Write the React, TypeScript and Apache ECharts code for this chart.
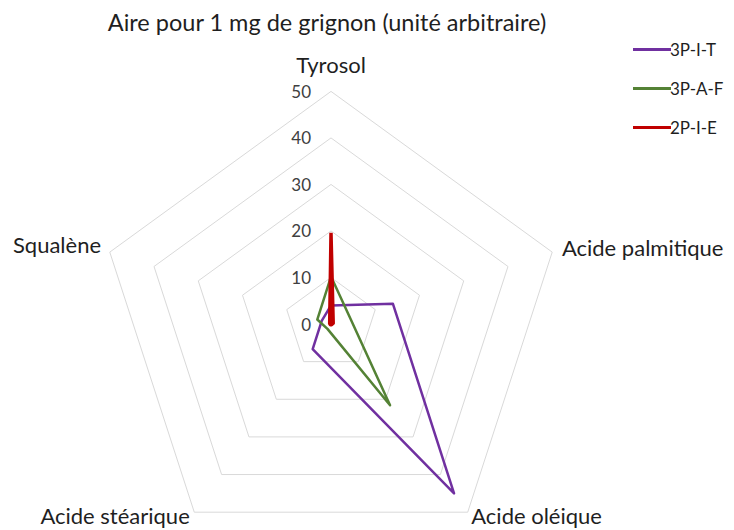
import React, { useEffect, useRef } from "react";
import * as echarts from "echarts";

const indicatorNames = ["Tyrosol", "Acide palmitique", "Acide oléique", "Acide stéarique", "Squalène"];
const axisMax = 50;
const seriesNames = ["3P-I-T", "3P-A-F", "2P-I-E"];
const values3PIT = [4, 14, 45, 6.7, 2.1];
const values3PAF = [10.2, 4.3, 21.6, 1.3, 3.1];
const values2PIE = [19.6, 0.5, 0.2, 0.2, 0.3];
const seriesColors = ["#7030A0", "#548235", "#C00000"];
const titleText = "Aire pour 1 mg de grignon (unité arbitraire)";

// ECharts places indicators counter-clockwise; Excel goes clockwise.
const order = [0, 4, 3, 2, 1];

const FONT = "Lato, 'Open Sans', sans-serif";

export default function App() {
  const ref = useRef<HTMLDivElement>(null);
  useEffect(() => {
    if (!ref.current) return;
    const chart = echarts.init(ref.current, null, { renderer: "svg" });
    const allValues = [values3PIT, values3PAF, values2PIE];
    const richKeys: Record<string, string> = {
      "Tyrosol": "t",
      "Acide palmitique": "p",
      "Acide oléique": "o",
      "Acide stéarique": "s",
      "Squalène": "q",
    };
    const base = { fontFamily: FONT, fontSize: 22, color: "#1f1f1f" };
    chart.setOption({
      animation: false,
      title: {
        text: titleText,
        left: 322,
        top: 5,
        textAlign: "center",
        textStyle: { fontFamily: FONT, fontSize: 23.5, fontWeight: "normal", color: "#1f1f1f" },
      },
      legend: {
        orient: "vertical",
        left: 628,
        top: 36,
        itemWidth: 38,
        itemHeight: 3,
        itemGap: 22,
        icon: "rect",
        data: seriesNames,
        textStyle: { fontFamily: FONT, fontSize: 17, color: "#1f1f1f", padding: [0, 0, 0, -6] },
      },
      radar: {
        center: [331, 324],
        radius: 232.6,
        startAngle: 90,
        shape: "polygon",
        splitNumber: 5,
        nameGap: 6,
        indicator: order.map((i, k) => ({
          name: indicatorNames[i],
          min: 0,
          max: axisMax,
          ...(k === 0
            ? {
                axisLabel: {
                  show: true,
                  margin: 20,
                  fontFamily: FONT,
                  fontSize: 17,
                  color: "#404040",
                },
              }
            : {}),
        })),
        axisName: {
          formatter: (name: string) => `{${richKeys[name]}|${name}}`,
          rich: {
            t: { ...base, padding: [0, 0, 10, 0] },
            p: { ...base, padding: [0, 0, 6, 4] },
            o: { ...base, padding: [0, 0, 4, 0] },
            s: { ...base, padding: [0, 1, 4, 0] },
            q: { ...base, padding: [0, 3, 12, 0] },
          },
        },
        axisLine: { show: false },
        axisTick: { show: false },
        axisLabel: { show: false },
        splitLine: { lineStyle: { color: "#d9d9d9", width: 1 } },
        splitArea: { show: false },
      },
      series: seriesNames.map((name, s) => ({
        type: "radar",
        name,
        symbol: "none",
        color: seriesColors[s],
        lineStyle: { color: seriesColors[s], width: s === 2 ? 3.5 : 2.5 },
        data: [{ name, value: order.map((i) => allValues[s][i]) }],
      })),
    });
    return () => chart.dispose();
  }, []);
  return (
    <div
      ref={ref}
      style={{ position: "fixed", left: 0, top: 0, width: 734, height: 530, background: "#fff" }}
    />
  );
}
